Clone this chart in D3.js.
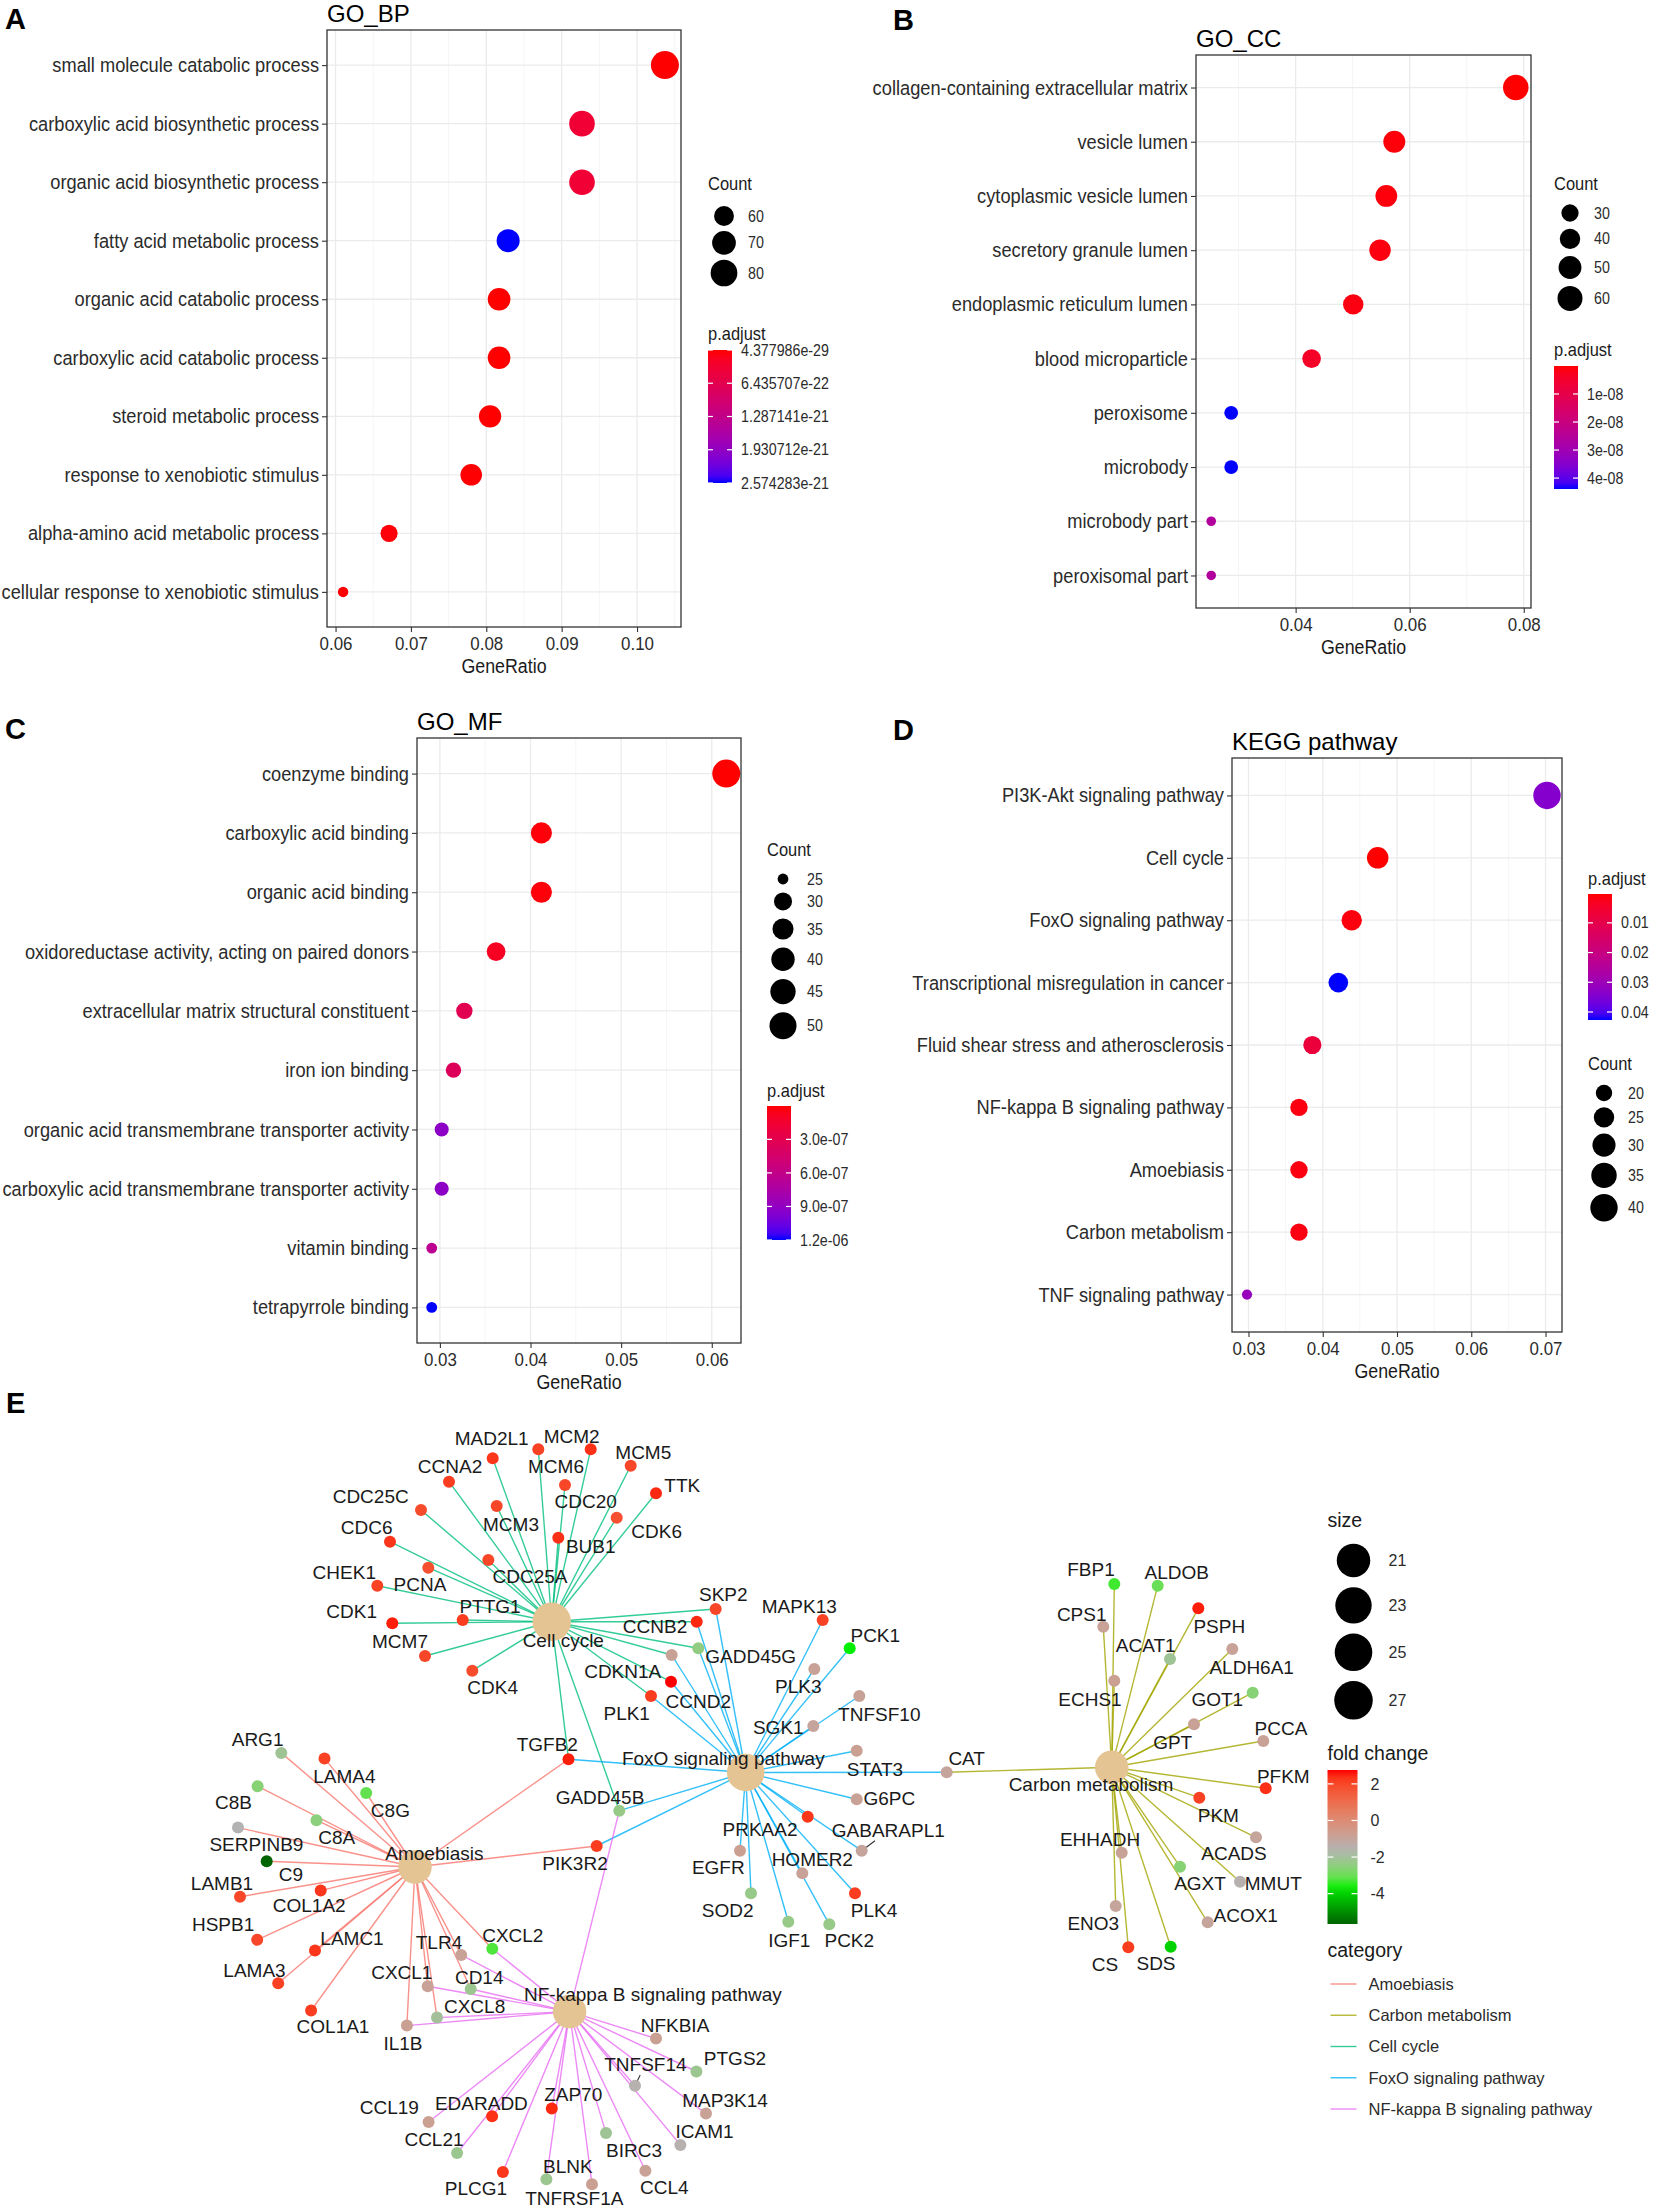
<!DOCTYPE html>
<html>
<head>
<meta charset="utf-8">
<script src="https://cdn.jsdelivr.net/npm/d3@7"></script>
<style>
  body { margin: 0; background: #fff; }
  svg { display: block; }
</style>
</head>
<body>
<svg id="fig" width="1655" height="2211"></svg>
<script>
var FONT = '"Liberation Sans", Arial, Helvetica, sans-serif'

// ---------- Panel A: GO_BP ----------
var bpTerms = ['small molecule catabolic process', 'carboxylic acid biosynthetic process',
  'organic acid biosynthetic process', 'fatty acid metabolic process', 'organic acid catabolic process',
  'carboxylic acid catabolic process', 'steroid metabolic process', 'response to xenobiotic stimulus',
  'alpha-amino acid metabolic process', 'cellular response to xenobiotic stimulus']
var bpRatio = [0.1037, 0.0927, 0.0927, 0.0829, 0.0817, 0.0817, 0.0805, 0.0780, 0.0671, 0.0610]
var bpCount = [85, 76, 76, 68, 67, 67, 66, 64, 55, 50]
var bpPadj = [4.377986e-29, 3.6e-22, 3.6e-22, 2.574283e-21, 2.2e-26, 2.2e-26, 5.1e-25, 8.4e-24, 3.9e-23, 1.5e-23]
var bpTicks = [0.06, 0.07, 0.08, 0.09, 0.10]
var bpCountBreaks = [60, 70, 80]
var bpPadjBreaks = [4.377986e-29, 6.435707e-22, 1.287141e-21, 1.930712e-21, 2.574283e-21]

// ---------- Panel B: GO_CC ----------
var ccTerms = ['collagen-containing extracellular matrix', 'vesicle lumen', 'cytoplasmic vesicle lumen',
  'secretory granule lumen', 'endoplasmic reticulum lumen', 'blood microparticle', 'peroxisome',
  'microbody', 'microbody part', 'peroxisomal part']
var ccRatio = [0.0786, 0.0573, 0.0559, 0.0548, 0.0501, 0.0428, 0.0287, 0.0287, 0.0252, 0.0252]
var ccCount = [63, 46, 45, 44, 40, 34, 23, 23, 20, 20]
var ccPadj = [2.1e-11, 6.3e-10, 8.1e-10, 1.1e-9, 1.4e-9, 4.0e-9, 4.39e-8, 4.39e-8, 2.6e-8, 2.6e-8]
var ccTicks = [0.04, 0.06, 0.08]
var ccCountBreaks = [30, 40, 50, 60]
var ccPadjBreaks = [1e-8, 2e-8, 3e-8, 4e-8]

// ---------- Panel C: GO_MF ----------
var mfTerms = ['coenzyme binding', 'carboxylic acid binding', 'organic acid binding',
  'oxidoreductase activity, acting on paired donors', 'extracellular matrix structural constituent',
  'iron ion binding', 'organic acid transmembrane transporter activity',
  'carboxylic acid transmembrane transporter activity', 'vitamin binding', 'tetrapyrrole binding']
var mfRatio = [0.0616, 0.0412, 0.0412, 0.0362, 0.0327, 0.0315, 0.0302, 0.0302, 0.0291, 0.0291]
var mfCount = [53, 35, 35, 31, 28, 27, 26, 26, 25, 25]
var mfPadj = [1.5e-9, 2.0e-8, 2.0e-8, 9.0e-8, 3.1e-7, 3.6e-7, 9.2e-7, 9.2e-7, 6.4e-7, 1.2e-6]
var mfTicks = [0.03, 0.04, 0.05, 0.06]
var mfCountBreaks = [25, 30, 35, 40, 45, 50]
var mfPadjBreaks = [3e-7, 6e-7, 9e-7, 1.2e-6]

// ---------- Panel D: KEGG ----------
var keggTerms = ['PI3K-Akt signaling pathway', 'Cell cycle', 'FoxO signaling pathway',
  'Transcriptional misregulation in cancer', 'Fluid shear stress and atherosclerosis',
  'NF-kappa B signaling pathway', 'Amoebiasis', 'Carbon metabolism', 'TNF signaling pathway']
var keggRatio = [0.0702, 0.0474, 0.0439, 0.0421, 0.0386, 0.0368, 0.0368, 0.0368, 0.0298]
var keggCount = [40, 27, 25, 24, 22, 21, 21, 21, 17]
var keggPadj = [0.034, 0.0003, 0.0012, 0.0427, 0.0075, 0.0015, 0.0015, 0.0015, 0.031]
var keggTicks = [0.03, 0.04, 0.05, 0.06, 0.07]
var keggCountBreaks = [20, 25, 30, 35, 40]
var keggPadjBreaks = [0.01, 0.02, 0.03, 0.04]

// ---------- Panel E: gene-concept network ----------
var catNames = ['Amoebiasis', 'Carbon metabolism', 'Cell cycle', 'FoxO signaling pathway', 'NF-kappa B signaling pathway']
var catSize = [21, 21, 27, 25, 21]
var sizeBreaks = [21, 23, 25, 27]
var fcBreaks = [2, 0, -2, -4]

var amoebiasisGenes = ['ARG1', 'LAMA4', 'C8G', 'C8B', 'C8A', 'SERPINB9', 'C9', 'LAMB1', 'COL1A2', 'HSPB1',
  'LAMC1', 'LAMA3', 'COL1A1', 'TLR4', 'CXCL2', 'CXCL1', 'CD14', 'CXCL8', 'IL1B', 'PIK3R2', 'TGFB2']
var carbonGenes = ['FBP1', 'ALDOB', 'CPS1', 'PSPH', 'ACAT1', 'ALDH6A1', 'ECHS1', 'GOT1', 'GPT', 'PCCA',
  'PFKM', 'PKM', 'ACADS', 'MMUT', 'AGXT', 'ACOX1', 'EHHADH', 'ENO3', 'CS', 'SDS', 'CAT']
var cellCycleGenes = ['MAD2L1', 'MCM2', 'CDC20', 'MCM5', 'CCNA2', 'MCM6', 'TTK', 'CDC25C', 'MCM3', 'CDK6',
  'CDC6', 'BUB1', 'CDC25A', 'PCNA', 'CHEK1', 'CDK1', 'PTTG1', 'MCM7', 'CDK4', 'SKP2', 'CCNB2', 'GADD45G',
  'CDKN1A', 'CCND2', 'PLK1', 'GADD45B', 'TGFB2']
var foxoGenes = ['SKP2', 'CCNB2', 'GADD45G', 'CDKN1A', 'CCND2', 'PLK1', 'MAPK13', 'PCK1', 'PLK3', 'SGK1',
  'TNFSF10', 'STAT3', 'CAT', 'G6PC', 'GABARAPL1', 'PRKAA2', 'EGFR', 'HOMER2', 'SOD2', 'IGF1', 'PCK2', 'PLK4',
  'GADD45B', 'PIK3R2', 'TGFB2']
var nfkbGenes = ['CXCL2', 'TLR4', 'CD14', 'CXCL1', 'CXCL8', 'IL1B', 'GADD45B', 'NFKBIA', 'PTGS2', 'TNFSF14',
  'MAP3K14', 'ICAM1', 'CCL4', 'BIRC3', 'TNFRSF1A', 'BLNK', 'ZAP70', 'PLCG1', 'CCL21', 'EDARADD', 'CCL19']

var geneNames = ['MAD2L1', 'MCM2', 'CDC20', 'MCM5', 'CCNA2', 'MCM6', 'TTK', 'CDC25C', 'MCM3', 'CDK6',
  'CDC6', 'BUB1', 'CDC25A', 'PCNA', 'CHEK1', 'CDK1', 'PTTG1', 'MCM7', 'CDK4', 'SKP2',
  'CCNB2', 'GADD45G', 'CDKN1A', 'CCND2', 'PLK1', 'GADD45B', 'TGFB2', 'MAPK13', 'PCK1', 'PLK3',
  'TNFSF10', 'SGK1', 'STAT3', 'CAT', 'G6PC', 'GABARAPL1', 'PRKAA2', 'EGFR', 'HOMER2', 'SOD2',
  'IGF1', 'PCK2', 'PLK4', 'PIK3R2', 'ARG1', 'LAMA4', 'C8G', 'C8B', 'C8A', 'SERPINB9',
  'C9', 'LAMB1', 'COL1A2', 'HSPB1', 'LAMC1', 'LAMA3', 'COL1A1', 'TLR4', 'CXCL2', 'CXCL1',
  'CD14', 'CXCL8', 'IL1B', 'NFKBIA', 'PTGS2', 'TNFSF14', 'MAP3K14', 'ICAM1', 'CCL4', 'BIRC3',
  'TNFRSF1A', 'BLNK', 'ZAP70', 'PLCG1', 'CCL21', 'EDARADD', 'CCL19', 'FBP1', 'ALDOB', 'CPS1',
  'PSPH', 'ACAT1', 'ALDH6A1', 'ECHS1', 'GOT1', 'GPT', 'PCCA', 'PFKM', 'PKM', 'ACADS',
  'MMUT', 'AGXT', 'ACOX1', 'EHHADH', 'ENO3', 'CS', 'SDS']
var geneFC = [2.3, 2.1, 2.4, 2.0, 2.2, 2.0, 2.5, 1.9, 2.0, 1.8,
  2.3, 2.4, 2.0, 1.8, 2.1, 2.6, 2.2, 2.0, 1.9, 2.0,
  2.5, -2.4, -0.9, 2.76, 2.2, -2.3, 2.6, 2.1, -3.6, -0.9,
  -0.9, -1.0, -0.8, -1.0, -0.9, -1.0, 2.3, -0.8, -0.9, -2.3,
  -2.3, -2.3, 2.2, 2.2, -2.1, 2.1, -3.1, -2.6, -2.5, -1.6,
  -5.66, 2.0, 2.3, 2.0, 2.3, 2.1, 2.2, -0.9, -3.3, -0.9,
  -2.2, -2.0, -0.8, -0.8, -2.2, -1.5, -0.9, -1.5, -0.9, -2.1,
  -0.8, -2.2, 2.5, 2.3, -2.2, 2.4, -0.8, -3.4, -3.0, -0.9,
  2.6, -2.1, -0.9, -0.8, -2.6, -0.9, -0.9, 2.4, 2.1, -1.0,
  -1.5, -2.6, -1.0, -0.9, -1.0, 2.2, -4.0]

// network layout (graph units), as laid out in the figure
var catNodeXY = [[21.5, 46.7], [91.17, 36.73], [35.17, 22.17], [54.57, 37.25], [36.96, 61.16]]
var catLabelXY = [[23.44, 45.3], [89.1, 38.4], [36.33, 24.0], [52.33, 35.8], [45.29, 59.4]]
var geneNodeXY = [[29.27, 5.83], [33.83, 4.93], [39.07, 4.93], [43.07, 6.57], [24.9, 8.17], [36.5, 8.5],
  [45.6, 9.33], [22.1, 11.0], [29.67, 10.6], [41.67, 11.77], [19.0, 14.17], [35.83, 13.77], [28.83, 16.0],
  [22.83, 16.77], [17.73, 18.57], [19.23, 22.33], [26.27, 22.0], [22.5, 25.6], [27.23, 27.07], [51.57, 20.9],
  [49.67, 22.17], [49.83, 24.83], [47.17, 25.5], [47.1, 28.17], [45.1, 29.6], [41.93, 41.07], [36.85, 35.93],
  [62.27, 22.0], [64.97, 24.83], [61.43, 26.9], [65.93, 29.6], [61.33, 32.6], [65.67, 35.07], [74.67, 37.23],
  [65.67, 39.93], [66.17, 45.07], [60.77, 41.67], [54.0, 45.07], [60.23, 47.33], [55.1, 49.33], [58.83, 52.17],
  [62.93, 52.43], [65.5, 49.33], [39.67, 44.6], [8.13, 35.29], [12.45, 35.86], [16.62, 39.3], [5.76, 38.62],
  [11.65, 42.02], [3.8, 42.76], [6.67, 46.13], [4.0, 49.67], [12.07, 49.06], [5.72, 53.98], [11.5, 55.05],
  [7.82, 58.32], [11.11, 61.05], [26.12, 55.49], [29.23, 54.87], [22.77, 58.63], [27.07, 58.9], [23.7, 61.76],
  [20.69, 62.56], [45.6, 63.85], [49.64, 67.15], [43.5, 68.57], [50.6, 71.36], [48.04, 74.49], [44.54, 77.08],
  [40.6, 73.31], [39.2, 78.43], [34.64, 77.93], [35.18, 70.86], [30.29, 77.19], [25.71, 75.3], [29.21, 71.63],
  [22.86, 72.2], [91.43, 18.4], [95.77, 18.57], [90.33, 22.67], [99.83, 20.83], [97.0, 25.9], [103.23, 24.9],
  [91.43, 28.07], [105.27, 29.27], [99.4, 32.43], [106.33, 34.1], [106.57, 38.83], [99.93, 39.77], [105.6, 43.73],
  [104.0, 48.17], [98.0, 46.67], [100.77, 52.23], [92.17, 45.27], [91.57, 50.6], [92.83, 54.73], [97.07, 54.67]]
var geneLabelXY = [[29.17, 3.83], [37.17, 3.6], [38.57, 10.17], [44.33, 5.27], [25.0, 6.67], [35.6, 6.67],
  [48.23, 8.5], [17.07, 9.67], [31.1, 12.43], [45.67, 13.17], [16.67, 12.77], [39.07, 14.67], [33.0, 17.67],
  [22.0, 18.43], [14.43, 17.27], [15.17, 21.17], [29.0, 20.67], [20.0, 24.1], [29.27, 28.73], [52.33, 19.43],
  [45.5, 22.6], [55.07, 25.67], [42.27, 27.17], [49.83, 30.1], [42.67, 31.33], [40.0, 39.73], [34.73, 34.4],
  [59.93, 20.6], [67.53, 23.5], [59.83, 28.6], [67.93, 31.4], [57.83, 32.73], [67.5, 36.93], [76.67, 35.83],
  [68.93, 39.83], [68.83, 43.07], [56.0, 42.93], [51.83, 46.73], [61.23, 45.93], [52.77, 51.0], [58.93, 54.0],
  [64.93, 54.0], [67.4, 51.0], [37.5, 46.33], [5.76, 33.94], [14.44, 37.61], [19.04, 41.01], [3.34, 40.24],
  [13.68, 43.77], [5.64, 44.45], [9.09, 47.41], [2.2, 48.32], [10.92, 50.58], [2.31, 52.46], [15.2, 53.81],
  [5.45, 57.01], [13.3, 62.63], [23.9, 54.21], [31.28, 53.54], [20.18, 57.24], [27.92, 57.75], [27.46, 60.68],
  [20.3, 64.31], [47.5, 62.54], [53.5, 65.8], [44.54, 66.41], [52.5, 70.08], [50.46, 73.14], [46.43, 78.77],
  [43.4, 75.06], [37.43, 79.8], [36.79, 76.68], [37.32, 69.4], [27.6, 78.87], [23.4, 73.89], [28.14, 70.35],
  [18.93, 70.75], [89.1, 16.93], [97.67, 17.27], [88.17, 21.43], [101.93, 22.67], [94.57, 24.5], [105.17, 26.73],
  [89.0, 29.93], [101.73, 29.93], [97.27, 34.23], [108.1, 32.83], [108.33, 37.6], [101.83, 41.5], [103.4, 45.33],
  [107.33, 48.33], [100.0, 48.33], [104.57, 51.5], [90.0, 43.93], [89.33, 52.33], [90.5, 56.43], [95.6, 56.33]]
var labelSegments = ['GABARAPL1', 'TNFSF14']

// ---------- drawing ----------
var svg = d3.select('#fig')
svg.append('rect').attr('width', 1655).attr('height', 2211).attr('fill', '#fff')
var defs = svg.append('defs')

function pad_exp(s) {
  return s.replace(/e([+-])(\d)$/, 'e$10$2')
}

function add_text(g, txt, x, y, size, opts) {
  opts = opts || {}
  return g.append('text')
    .text(txt)
    .attr('x', x)
    .attr('y', y)
    .attr('font-family', FONT)
    .attr('font-size', size)
    .attr('font-weight', opts.bold ? 'bold' : null)
    .attr('fill', opts.fill || '#000')
    .attr('text-anchor', opts.anchor || 'start')
    .attr('dy', opts.dy || null)
    .classed('nar', !!opts.nar)
}

function vertical_gradient(id, colorFn, domain, reverse) {
  var grad = defs.append('linearGradient').attr('id', id)
    .attr('x1', 0).attr('y1', 0).attr('x2', 0).attr('y2', 1)
  d3.range(0, 1.0001, 0.05).forEach(t => {
    var v = reverse ? domain[1] + (domain[0] - domain[1]) * t : domain[0] + (domain[1] - domain[0]) * t
    grad.append('stop').attr('offset', t).attr('stop-color', colorFn(v))
  })
}

function draw_dotplot(p) {
  var g = svg.append('g')
  var box = p.box
  var ext = d3.extent(p.ratio)
  var pad = (ext[1] - ext[0]) * 0.05
  var x = d3.scaleLinear().domain([ext[0] - pad, ext[1] + pad]).range([box[0], box[1]])
  var y = d3.scalePoint().domain(p.terms).range([box[2], box[3]]).padding(0.6)
  var cext = d3.extent(p.count)
  var dsc = d3.scaleLinear().domain([0, 1]).range(p.dot)
  var diam = c => dsc(Math.sqrt(Math.max(0, c - cext[0]) / (cext[1] - cext[0])))
  var pext = d3.extent(p.padj)
  var color = d3.scaleLinear().domain(pext).range(['#FF0000', '#0000FF']).interpolate(d3.interpolateLab)

  // grid
  var step = p.ticks[1] - p.ticks[0]
  var minor = d3.range(p.ticks[0] - step / 2, x.domain()[1], step).filter(v => v > x.domain()[0])
  g.selectAll(null).data(minor).join('line')
    .attr('x1', d => x(d)).attr('x2', d => x(d)).attr('y1', box[2]).attr('y2', box[3])
    .attr('stroke', '#F2F2F2').attr('stroke-width', 0.8)
  g.selectAll(null).data(p.ticks).join('line')
    .attr('x1', d => x(d)).attr('x2', d => x(d)).attr('y1', box[2]).attr('y2', box[3])
    .attr('stroke', '#EBEBEB').attr('stroke-width', 1.3)
  g.selectAll(null).data(p.terms).join('line')
    .attr('x1', box[0]).attr('x2', box[1]).attr('y1', d => y(d)).attr('y2', d => y(d))
    .attr('stroke', '#EBEBEB').attr('stroke-width', 1.3)

  // dots
  g.selectAll(null).data(p.terms).join('circle')
    .attr('cx', (d, i) => x(p.ratio[i]))
    .attr('cy', d => y(d))
    .attr('r', (d, i) => diam(p.count[i]) / 2)
    .attr('fill', (d, i) => color(p.padj[i]))

  g.append('rect')
    .attr('x', box[0]).attr('y', box[2])
    .attr('width', box[1] - box[0]).attr('height', box[3] - box[2])
    .attr('fill', 'none').attr('stroke', '#333').attr('stroke-width', 1.3)

  // axes
  var ax = g.append('g').attr('transform', 'translate(0,' + box[3] + ')')
    .call(d3.axisBottom(x).tickValues(p.ticks).tickFormat(d3.format('.2f')).tickSize(5).tickPadding(5))
  var ay = g.append('g').attr('transform', 'translate(' + box[0] + ',0)')
    .call(d3.axisLeft(y).tickSize(5).tickPadding(3))
  ;[ax, ay].forEach(a => {
    a.select('.domain').remove()
    a.selectAll('line').attr('stroke', '#333').attr('stroke-width', 1.1)
    a.selectAll('text').attr('fill', '#2b2b2b').attr('font-family', FONT).classed('nar', true)
  })
  ax.selectAll('text').attr('font-size', 19)
  ay.selectAll('text').attr('font-size', 20.5)

  add_text(g, p.title, box[0], box[2] - 8, 24)
  add_text(g, 'GeneRatio', (box[0] + box[1]) / 2, box[3] + 46, 20, { anchor: 'middle', nar: true, fill: '#1a1a1a' })

  // Count legend
  var L = p.countLeg
  add_text(g, 'Count', L.x, L.titleY, 18.5, { nar: true, dy: '0.35em', fill: '#1a1a1a' })
  var ys = []
  var yy = L.firstY
  p.countBreaks.forEach((b, i) => {
    if (i > 0) yy += (diam(p.countBreaks[i - 1]) + diam(b)) / 2 + L.gap
    ys.push(yy)
  })
  g.selectAll(null).data(p.countBreaks).join('circle')
    .attr('cx', L.x + 16).attr('cy', (d, i) => ys[i]).attr('r', d => diam(d) / 2).attr('fill', '#000')
  p.countBreaks.forEach((b, i) => {
    add_text(g, b, L.x + 40, ys[i], 16, { nar: true, dy: '0.35em', fill: '#2b2b2b' })
  })

  // p.adjust colour bar
  var C = p.padjLeg
  add_text(g, 'p.adjust', C.x, C.titleY, 18.5, { nar: true, dy: '0.35em', fill: '#1a1a1a' })
  vertical_gradient('grad-' + p.id, color, pext, false)
  g.append('rect').attr('x', C.x).attr('y', C.top).attr('width', 24).attr('height', C.bottom - C.top)
    .attr('fill', 'url(#grad-' + p.id + ')')
  var yb = d3.scaleLinear().domain(pext).range([C.top, C.bottom])
  p.padjBreaks.forEach(b => {
    g.append('line').attr('x1', C.x).attr('x2', C.x + 5).attr('y1', yb(b)).attr('y2', yb(b))
      .attr('stroke', '#fff').attr('stroke-width', 1.2)
    g.append('line').attr('x1', C.x + 19).attr('x2', C.x + 24).attr('y1', yb(b)).attr('y2', yb(b))
      .attr('stroke', '#fff').attr('stroke-width', 1.2)
    add_text(g, p.padjFormat(b), C.x + 33, yb(b), 16, { nar: true, dy: '0.35em', fill: '#2b2b2b' })
  })
}

draw_dotplot({
  id: 'bp', title: 'GO_BP', terms: bpTerms, ratio: bpRatio, count: bpCount, padj: bpPadj,
  ticks: bpTicks, countBreaks: bpCountBreaks, padjBreaks: bpPadjBreaks,
  padjFormat: d3.format('.6e'),
  box: [327, 681, 30, 627], dot: [10.5, 28],
  countLeg: { x: 708, titleY: 184, firstY: 216, gap: 5 },
  padjLeg: { x: 708, titleY: 334, top: 350, bottom: 483 }
})
draw_dotplot({
  id: 'cc', title: 'GO_CC', terms: ccTerms, ratio: ccRatio, count: ccCount, padj: ccPadj,
  ticks: ccTicks, countBreaks: ccCountBreaks, padjBreaks: ccPadjBreaks,
  padjFormat: v => pad_exp(d3.format('.0e')(v)),
  box: [1196, 1531, 55, 608], dot: [9.6, 25.5],
  countLeg: { x: 1554, titleY: 184, firstY: 213, gap: 7 },
  padjLeg: { x: 1554, titleY: 350, top: 366, bottom: 489 }
})
draw_dotplot({
  id: 'mf', title: 'GO_MF', terms: mfTerms, ratio: mfRatio, count: mfCount, padj: mfPadj,
  ticks: mfTicks, countBreaks: mfCountBreaks, padjBreaks: mfPadjBreaks,
  padjFormat: v => pad_exp(d3.format('.1e')(v)),
  box: [417, 741, 738, 1343], dot: [10.8, 28],
  countLeg: { x: 767, titleY: 850, firstY: 879, gap: 8 },
  padjLeg: { x: 767, titleY: 1091, top: 1106, bottom: 1240 }
})
draw_dotplot({
  id: 'kegg', title: 'KEGG pathway', terms: keggTerms, ratio: keggRatio, count: keggCount, padj: keggPadj,
  ticks: keggTicks, countBreaks: keggCountBreaks, padjBreaks: keggPadjBreaks,
  padjFormat: d3.format('.2f'),
  box: [1232, 1562, 758, 1332], dot: [10.2, 27.4],
  countLeg: { x: 1588, titleY: 1064, firstY: 1093, gap: 6 },
  padjLeg: { x: 1588, titleY: 879, top: 894, bottom: 1020 }
})

// panel letters
;[['A', 5, 29], ['B', 893, 30], ['C', 5, 739], ['D', 893, 740], ['E', 6, 1413]].forEach(l => {
  add_text(svg, l[0], l[1], l[2], 29, { bold: true })
})

// ---------- network ----------
var net = svg.append('g')
var nx = d3.scaleLinear().domain([0, 100]).range([200, 1200])
var ny = d3.scaleLinear().domain([0, 100]).range([1400, 2400])
var catColor = d3.scaleOrdinal().domain(catNames).range(['#F8766D', '#A3A500', '#00BF7D', '#00B0F6', '#E76BF3'])
var fcExt = d3.extent(geneFC)
var fcColor = d3.scaleLinear().domain([fcExt[0], -3.6, -1.6, fcExt[1]])
  .range(['#006400', '#00EE00', '#B3B3B3', '#FF0000']).interpolate(d3.interpolateLab)
var sizeExt = d3.extent(catSize)
var catDsc = d3.scaleLinear().domain([0, 1]).range([33.5, 38.5])
var catDiam = s => catDsc(Math.sqrt((s - sizeExt[0]) / (sizeExt[1] - sizeExt[0])))
var catGenes = [amoebiasisGenes, carbonGenes, cellCycleGenes, foxoGenes, nfkbGenes]
var geneIndex = {}
geneNames.forEach((n, i) => { geneIndex[n] = i })

// edges
catNames.forEach((c, ci) => {
  var cxy = catNodeXY[ci]
  net.append('g').selectAll('line').data(catGenes[ci]).join('line')
    .attr('x1', nx(cxy[0])).attr('y1', ny(cxy[1]))
    .attr('x2', d => nx(geneNodeXY[geneIndex[d]][0]))
    .attr('y2', d => ny(geneNodeXY[geneIndex[d]][1]))
    .attr('stroke', catColor(c)).attr('stroke-opacity', 0.8).attr('stroke-width', 1.4)
})

// label leader segments
labelSegments.forEach(n => {
  var i = geneIndex[n]
  var a = geneNodeXY[i], b = geneLabelXY[i]
  var x0 = nx(a[0]), y0 = ny(a[1]), x1 = nx(b[0]), y1 = ny(b[1])
  net.append('line').attr('x1', x0 + (x1 - x0) * 0.15).attr('y1', y0 + (y1 - y0) * 0.15)
    .attr('x2', x0 + (x1 - x0) * 0.5).attr('y2', y0 + (y1 - y0) * 0.5)
    .attr('stroke', '#333').attr('stroke-width', 1.1)
})

// gene nodes
net.append('g').selectAll('circle').data(geneNames).join('circle')
  .attr('cx', (d, i) => nx(geneNodeXY[i][0]))
  .attr('cy', (d, i) => ny(geneNodeXY[i][1]))
  .attr('r', 6)
  .attr('fill', (d, i) => fcColor(geneFC[i]))

// category nodes
net.append('g').selectAll('circle').data(catNames).join('circle')
  .attr('cx', (d, i) => nx(catNodeXY[i][0]))
  .attr('cy', (d, i) => ny(catNodeXY[i][1]))
  .attr('r', (d, i) => catDiam(catSize[i]) / 2)
  .attr('fill', '#E5C494')

// labels
geneNames.forEach((n, i) => {
  add_text(net, n, nx(geneLabelXY[i][0]), ny(geneLabelXY[i][1]), 19, { anchor: 'middle', dy: '0.35em', fill: '#1a1a1a' })
})
catNames.forEach((n, i) => {
  add_text(net, n, nx(catLabelXY[i][0]), ny(catLabelXY[i][1]), 19, { anchor: 'middle', dy: '0.35em', fill: '#1a1a1a' })
})

// network legends
var leg = svg.append('g')
var LX = 1327.5
add_text(leg, 'size', LX, 1520, 19.5, { dy: '0.35em', fill: '#1a1a1a' })
var sy = []
var syy = 1560.4
sizeBreaks.forEach((b, i) => {
  if (i > 0) syy += (catDiam(sizeBreaks[i - 1]) + catDiam(b)) / 2 + 10
  sy.push(syy)
})
leg.selectAll(null).data(sizeBreaks).join('circle')
  .attr('cx', LX + 26).attr('cy', (d, i) => sy[i]).attr('r', d => catDiam(d) / 2).attr('fill', '#000')
sizeBreaks.forEach((b, i) => {
  add_text(leg, b, LX + 61, sy[i], 16, { dy: '0.35em', fill: '#2b2b2b' })
})

add_text(leg, 'fold change', LX, 1753, 19.5, { dy: '0.35em', fill: '#1a1a1a' })
var fcTop = 1770, fcBottom = 1924
vertical_gradient('grad-fc', fcColor, fcExt, true)
leg.append('rect').attr('x', LX).attr('y', fcTop).attr('width', 30).attr('height', fcBottom - fcTop)
  .attr('fill', 'url(#grad-fc)')
var fcY = d3.scaleLinear().domain([fcExt[1], fcExt[0]]).range([fcTop, fcBottom])
fcBreaks.forEach(b => {
  leg.append('line').attr('x1', LX).attr('x2', LX + 6).attr('y1', fcY(b)).attr('y2', fcY(b))
    .attr('stroke', '#fff').attr('stroke-width', 1.2)
  leg.append('line').attr('x1', LX + 24).attr('x2', LX + 30).attr('y1', fcY(b)).attr('y2', fcY(b))
    .attr('stroke', '#fff').attr('stroke-width', 1.2)
  add_text(leg, b, LX + 43, fcY(b), 16, { dy: '0.35em', fill: '#2b2b2b' })
})

add_text(leg, 'category', LX, 1950, 19.5, { dy: '0.35em', fill: '#1a1a1a' })
var catY = d3.scalePoint().domain(catNames).range([1984, 2109])
catNames.forEach(c => {
  leg.append('line').attr('x1', LX + 3).attr('x2', LX + 29).attr('y1', catY(c)).attr('y2', catY(c))
    .attr('stroke', catColor(c)).attr('stroke-opacity', 0.8).attr('stroke-width', 1.4)
  add_text(leg, c, LX + 41, catY(c), 16.5, { dy: '0.35em', fill: '#2b2b2b' })
})

// squeeze the dot-plot texts to the narrow face used in the figure
d3.selectAll('text.nar').each(function() {
  var w = this.getComputedTextLength()
  d3.select(this).attr('textLength', w * 0.89).attr('lengthAdjust', 'spacingAndGlyphs')
})
</script>
</body>
</html>
